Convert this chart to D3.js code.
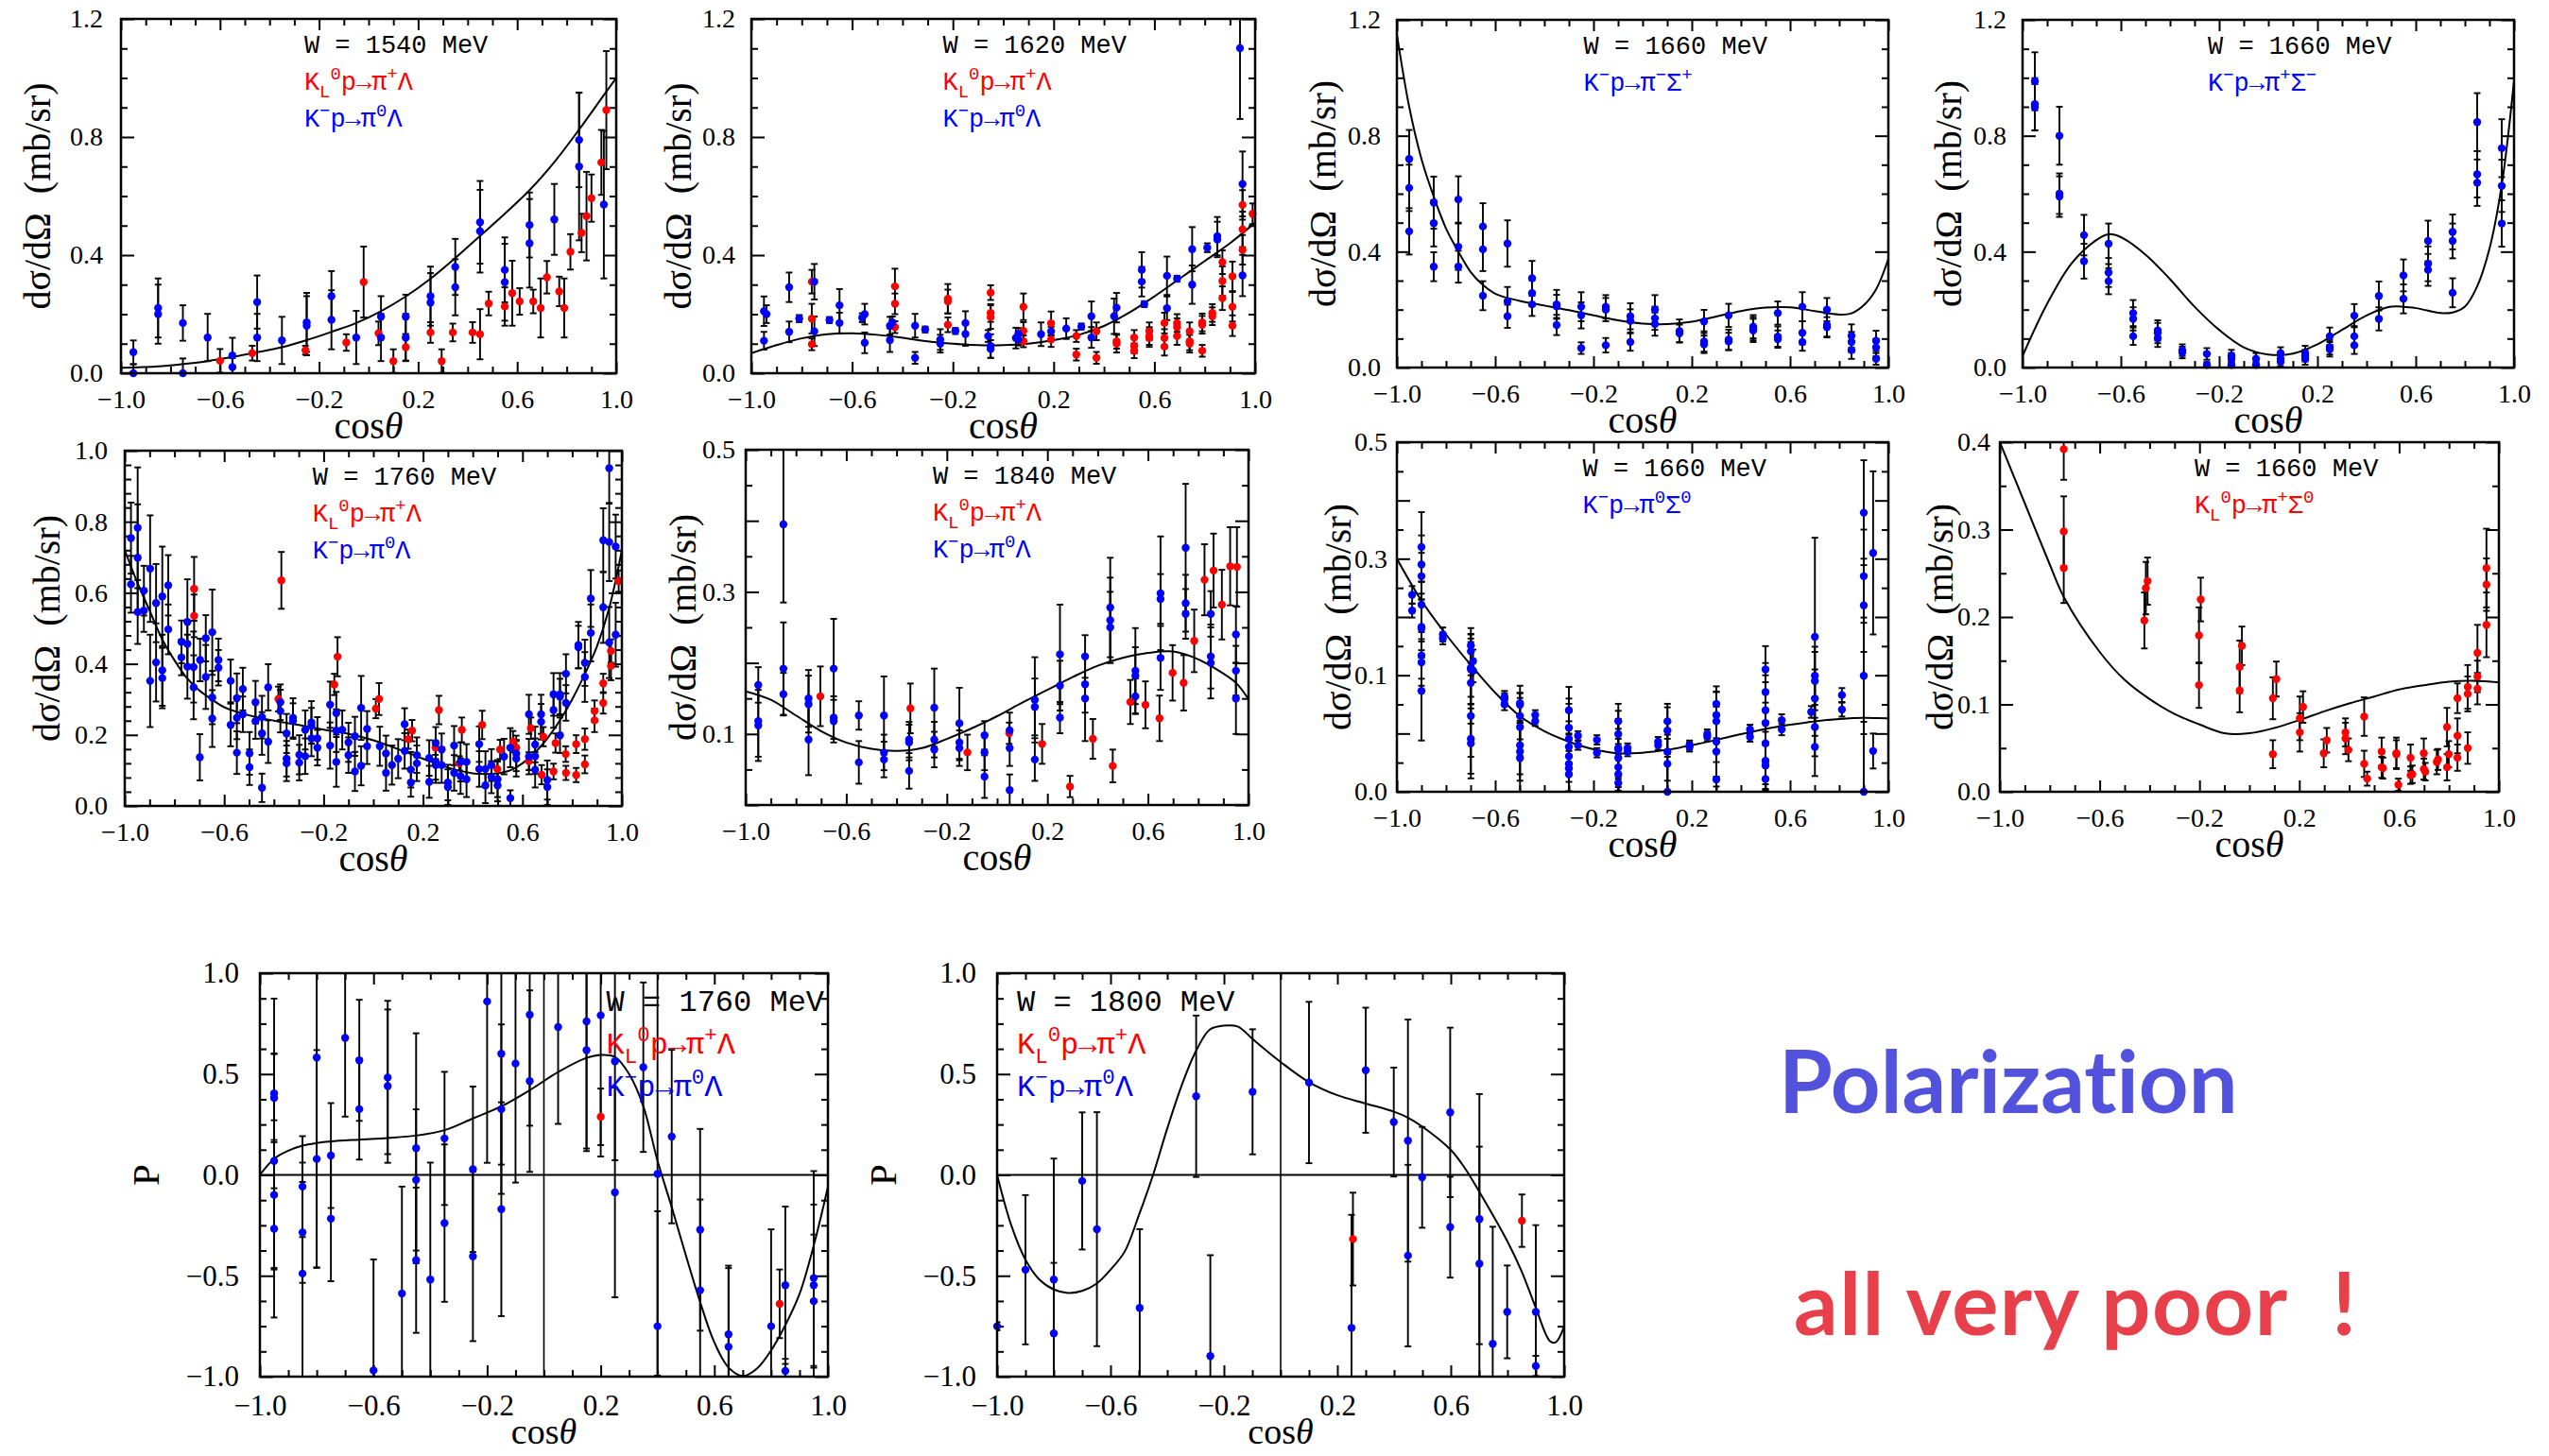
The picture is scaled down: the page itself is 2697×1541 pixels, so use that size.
<!DOCTYPE html>
<html>
<head>
<meta charset="utf-8">
<script src="https://cdn.jsdelivr.net/npm/d3@7"></script>
<style>
body{margin:0;background:#fff;}
svg{display:block;}
</style>
</head>
<body>
<svg id="plot"></svg>
<script>
const width = 2697;
const height = 1541;

const serif = '"Liberation Serif", "DejaVu Serif", serif';
const mono = '"Liberation Mono", "DejaVu Sans Mono", monospace';

// ---- data: [cos theta, value, error] ----
const xLabels = [-1.0, -0.6, -0.2, 0.2, 0.6, 1.0];

// W = 1540 MeV, Lambda
const w1540Kminus = [[-0.95,0.071,0.04],[-0.95,0.0,0.03],[-0.85,0.221,0.1],[-0.85,0.2,0.1],[-0.75,0.17,0.06],[-0.75,0.0,0.05],[-0.65,0.121,0.08],[-0.55,0.06,0.06],[-0.55,0.021,0.03],[-0.45,0.241,0.09],[-0.45,0.121,0.08],[-0.35,0.111,0.08],[-0.25,0.172,0.1],[-0.25,0.161,0.1],[-0.15,0.261,0.085],[-0.15,0.181,0.1],[-0.05,0.121,0.09],[0.05,0.191,0.07],[0.05,0.121,0.08],[0.15,0.191,0.075],[0.15,0.121,0.08],[0.25,0.261,0.1],[0.25,0.239,0.1],[0.35,0.36,0.095],[0.35,0.291,0.095],[0.45,0.511,0.14],[0.45,0.481,0.14],[0.55,0.35,0.11],[0.55,0.308,0.13],[0.65,0.502,0.11],[0.65,0.44,0.15],[0.75,0.521,0.12],[0.85,0.79,0.16],[0.85,0.70,0.25],[0.95,0.571,0.25]];
const w1540KL = [[-0.60,0.042,0.04],[-0.47,0.068,0.025],[-0.255,0.078,0.015],[-0.09,0.104,0.028],[-0.02,0.309,0.12],[0.04,0.135,0.04],[0.10,0.041,0.04],[0.15,0.088,0.045],[0.25,0.138,0.035],[0.295,0.041,0.04],[0.34,0.138,0.03],[0.42,0.138,0.035],[0.45,0.132,0.085],[0.485,0.236,0.04],[0.55,0.226,0.065],[0.58,0.271,0.11],[0.61,0.243,0.045],[0.665,0.243,0.04],[0.695,0.221,0.1],[0.72,0.325,0.055],[0.77,0.277,0.05],[0.79,0.221,0.1],[0.815,0.411,0.06],[0.86,0.475,0.065],[0.88,0.532,0.15],[0.90,0.593,0.08],[0.94,0.714,0.11],[0.96,0.891,0.2]];
const w1540Fit = [[-1,0.018],[-0.85,0.023],[-0.75,0.031],[-0.65,0.041],[-0.55,0.055],[-0.45,0.071],[-0.35,0.088],[-0.25,0.112],[-0.15,0.14],[-0.05,0.17],[0.05,0.21],[0.15,0.26],[0.25,0.32],[0.35,0.39],[0.45,0.465],[0.55,0.54],[0.65,0.62],[0.75,0.715],[0.85,0.825],[0.95,0.942],[1,1.0]];

// W = 1620 MeV, Lambda
const w1620Kminus = [[-0.95,0.21,0.05],[-0.94,0.20,0.03],[-0.95,0.11,0.03],[-0.85,0.291,0.05],[-0.85,0.14,0.035],[-0.81,0.185,0.012],[-0.75,0.31,0.06],[-0.75,0.142,0.05],[-0.69,0.18,0.01],[-0.65,0.23,0.055],[-0.65,0.17,0.035],[-0.56,0.188,0.015],[-0.55,0.2,0.035],[-0.55,0.103,0.035],[-0.45,0.112,0.04],[-0.45,0.161,0.03],[-0.44,0.172,0.02],[-0.35,0.161,0.04],[-0.35,0.052,0.02],[-0.31,0.148,0.01],[-0.25,0.114,0.035],[-0.25,0.10,0.03],[-0.19,0.143,0.01],[-0.15,0.17,0.04],[-0.15,0.133,0.04],[-0.06,0.126,0.02],[-0.05,0.092,0.04],[-0.05,0.082,0.03],[0.05,0.119,0.035],[0.06,0.133,0.02],[0.06,0.114,0.02],[0.15,0.132,0.04],[0.19,0.142,0.015],[0.25,0.151,0.035],[0.31,0.158,0.01],[0.35,0.193,0.05],[0.35,0.121,0.035],[0.44,0.193,0.06],[0.45,0.222,0.05],[0.55,0.35,0.06],[0.55,0.31,0.05],[0.56,0.234,0.01],[0.65,0.33,0.065],[0.65,0.22,0.04],[0.69,0.32,0.01],[0.75,0.42,0.075],[0.75,0.30,0.065],[0.81,0.425,0.015],[0.85,0.464,0.065],[0.85,0.453,0.06],[0.94,1.101,0.24],[0.95,0.641,0.11],[0.95,0.331,0.07]];
const w1620KL = [[-0.76,0.31,0.04],[-0.76,0.185,0.05],[-0.76,0.098,0.02],[-0.43,0.294,0.06],[-0.43,0.235,0.035],[-0.43,0.156,0.02],[-0.22,0.252,0.05],[-0.22,0.243,0.04],[-0.22,0.164,0.025],[-0.05,0.273,0.025],[-0.05,0.204,0.03],[-0.05,0.19,0.04],[0.08,0.225,0.045],[0.08,0.143,0.03],[0.08,0.108,0.02],[0.19,0.169,0.04],[0.19,0.114,0.025],[0.29,0.126,0.02],[0.29,0.063,0.02],[0.37,0.142,0.03],[0.37,0.052,0.02],[0.45,0.10,0.03],[0.45,0.108,0.025],[0.52,0.121,0.025],[0.52,0.092,0.025],[0.52,0.076,0.025],[0.58,0.142,0.03],[0.58,0.126,0.03],[0.58,0.119,0.03],[0.64,0.17,0.035],[0.64,0.119,0.03],[0.64,0.09,0.03],[0.69,0.17,0.03],[0.69,0.156,0.03],[0.69,0.126,0.03],[0.74,0.142,0.03],[0.74,0.108,0.03],[0.74,0.10,0.03],[0.79,0.172,0.03],[0.79,0.164,0.03],[0.79,0.076,0.02],[0.83,0.204,0.03],[0.83,0.193,0.03],[0.87,0.376,0.04],[0.87,0.312,0.05],[0.87,0.254,0.04],[0.91,0.328,0.05],[0.91,0.225,0.05],[0.91,0.161,0.035],[0.95,0.57,0.05],[0.95,0.487,0.06],[0.95,0.418,0.05],[0.99,0.54,0.035]];
const w1620Fit = [[-1,0.068],[-0.9,0.095],[-0.8,0.118],[-0.7,0.132],[-0.6,0.135],[-0.5,0.13],[-0.4,0.12],[-0.3,0.108],[-0.2,0.1],[-0.1,0.095],[0,0.095],[0.1,0.1],[0.2,0.112],[0.3,0.13],[0.4,0.16],[0.5,0.205],[0.6,0.26],[0.7,0.32],[0.8,0.38],[0.9,0.44],[1,0.51]];

// W = 1660 MeV, pi- Sigma+
const w1660SigPlus = [[-0.95,0.72,0.1],[-0.95,0.62,0.08],[-0.95,0.47,0.08],[-0.85,0.569,0.09],[-0.85,0.498,0.08],[-0.85,0.348,0.05],[-0.75,0.58,0.08],[-0.75,0.417,0.08],[-0.75,0.348,0.055],[-0.65,0.487,0.08],[-0.65,0.408,0.075],[-0.65,0.248,0.05],[-0.55,0.428,0.08],[-0.55,0.228,0.05],[-0.55,0.177,0.04],[-0.45,0.308,0.06],[-0.45,0.257,0.045],[-0.45,0.218,0.04],[-0.35,0.218,0.05],[-0.35,0.211,0.04],[-0.35,0.147,0.035],[-0.25,0.21,0.05],[-0.25,0.18,0.045],[-0.25,0.067,0.02],[-0.15,0.21,0.04],[-0.15,0.2,0.04],[-0.15,0.077,0.025],[-0.05,0.177,0.045],[-0.05,0.161,0.04],[-0.05,0.088,0.03],[0.05,0.2,0.05],[0.05,0.17,0.04],[0.05,0.15,0.04],[0.15,0.126,0.04],[0.15,0.118,0.03],[0.25,0.159,0.04],[0.25,0.09,0.035],[0.25,0.08,0.03],[0.35,0.18,0.04],[0.35,0.096,0.035],[0.35,0.09,0.03],[0.45,0.141,0.04],[0.45,0.134,0.04],[0.45,0.128,0.04],[0.55,0.188,0.04],[0.55,0.107,0.035],[0.55,0.098,0.03],[0.65,0.21,0.05],[0.65,0.12,0.04],[0.65,0.088,0.03],[0.75,0.2,0.04],[0.75,0.147,0.04],[0.75,0.139,0.035],[0.85,0.109,0.04],[0.85,0.088,0.035],[0.85,0.06,0.03],[0.95,0.092,0.035],[0.95,0.069,0.03],[0.95,0.03,0.02]];
const w1660SigPlusFit = [[-1,1.15],[-0.95,0.9],[-0.9,0.72],[-0.85,0.59],[-0.8,0.48],[-0.75,0.4],[-0.7,0.33],[-0.65,0.285],[-0.6,0.255],[-0.5,0.23],[-0.4,0.214],[-0.3,0.198],[-0.2,0.18],[-0.1,0.163],[0,0.152],[0.1,0.15],[0.2,0.158],[0.3,0.176],[0.4,0.195],[0.5,0.207],[0.6,0.208],[0.7,0.195],[0.8,0.183],[0.85,0.187],[0.9,0.215],[0.95,0.27],[1,0.375]];

// W = 1660 MeV, pi+ Sigma-
const w1660SigMinus = [[-0.95,0.988,0.1],[-0.95,0.909,0.09],[-0.95,0.898,0.08],[-0.85,0.8,0.1],[-0.85,0.6,0.07],[-0.85,0.59,0.07],[-0.75,0.457,0.07],[-0.75,0.367,0.06],[-0.65,0.427,0.07],[-0.65,0.328,0.05],[-0.65,0.298,0.045],[-0.55,0.188,0.045],[-0.55,0.168,0.04],[-0.55,0.108,0.03],[-0.45,0.128,0.035],[-0.45,0.119,0.035],[-0.45,0.101,0.03],[-0.35,0.06,0.02],[-0.35,0.052,0.02],[-0.25,0.047,0.02],[-0.25,0.009,0.01],[-0.15,0.041,0.02],[-0.15,0.03,0.02],[-0.15,0.009,0.01],[-0.05,0.03,0.02],[-0.05,0.009,0.01],[0.05,0.05,0.02],[0.05,0.03,0.015],[0.05,0.02,0.015],[0.15,0.05,0.025],[0.15,0.041,0.02],[0.15,0.03,0.02],[0.25,0.108,0.03],[0.25,0.07,0.025],[0.25,0.063,0.025],[0.35,0.179,0.04],[0.35,0.108,0.035],[0.35,0.077,0.03],[0.45,0.247,0.05],[0.45,0.168,0.04],[0.55,0.318,0.055],[0.55,0.237,0.05],[0.65,0.437,0.07],[0.65,0.358,0.06],[0.65,0.337,0.055],[0.75,0.468,0.06],[0.75,0.437,0.06],[0.75,0.258,0.05],[0.85,0.847,0.1],[0.85,0.667,0.08],[0.85,0.638,0.08],[0.95,0.757,0.1],[0.95,0.627,0.09],[0.95,0.497,0.08]];
const w1660SigMinusFit = [[-1,0.04],[-0.9,0.22],[-0.8,0.36],[-0.7,0.44],[-0.65,0.46],[-0.6,0.45],[-0.5,0.39],[-0.4,0.305],[-0.3,0.21],[-0.2,0.13],[-0.1,0.07],[0,0.045],[0.1,0.048],[0.2,0.08],[0.3,0.13],[0.4,0.18],[0.5,0.21],[0.6,0.205],[0.7,0.188],[0.75,0.19],[0.8,0.21],[0.85,0.28],[0.9,0.41],[0.95,0.63],[1,0.99]];

// W = 1760 MeV, Lambda
const w1760Kminus = [[-0.975,0.754,0.1],[-0.975,0.624,0.08],[-0.948,0.783,0.17],[-0.948,0.699,0.15],[-0.948,0.546,0.09],[-0.923,0.606,0.07],[-0.923,0.55,0.06],[-0.898,0.668,0.15],[-0.898,0.352,0.13],[-0.874,0.571,0.11],[-0.874,0.404,0.11],[-0.849,0.59,0.14],[-0.849,0.382,0.1],[-0.849,0.36,0.085],[-0.825,0.621,0.085],[-0.825,0.497,0.07],[-0.772,0.462,0.06],[-0.772,0.418,0.05],[-0.748,0.518,0.12],[-0.748,0.456,0.06],[-0.748,0.392,0.09],[-0.723,0.391,0.1],[-0.723,0.334,0.09],[-0.698,0.137,0.065],[-0.697,0.411,0.06],[-0.674,0.472,0.065],[-0.674,0.363,0.09],[-0.648,0.489,0.12],[-0.648,0.305,0.075],[-0.648,0.246,0.08],[-0.623,0.411,0.06],[-0.623,0.389,0.05],[-0.574,0.352,0.06],[-0.574,0.228,0.06],[-0.549,0.303,0.07],[-0.549,0.248,0.06],[-0.549,0.15,0.06],[-0.525,0.329,0.06],[-0.525,0.258,0.05],[-0.498,0.148,0.06],[-0.498,0.109,0.05],[-0.474,0.292,0.06],[-0.474,0.239,0.05],[-0.448,0.25,0.06],[-0.448,0.204,0.06],[-0.448,0.051,0.04],[-0.423,0.334,0.065],[-0.423,0.181,0.06],[-0.374,0.292,0.05],[-0.374,0.267,0.06],[-0.349,0.204,0.055],[-0.349,0.133,0.05],[-0.349,0.12,0.05],[-0.323,0.248,0.055],[-0.323,0.239,0.05],[-0.298,0.144,0.055],[-0.298,0.122,0.05],[-0.274,0.214,0.055],[-0.274,0.14,0.05],[-0.249,0.235,0.06],[-0.249,0.226,0.05],[-0.249,0.19,0.05],[-0.225,0.19,0.06],[-0.225,0.164,0.05],[-0.174,0.285,0.065],[-0.174,0.17,0.065],[-0.149,0.261,0.06],[-0.149,0.212,0.06],[-0.149,0.124,0.07],[-0.125,0.214,0.055],[-0.1,0.179,0.055],[-0.1,0.143,0.05],[-0.074,0.196,0.055],[-0.074,0.097,0.055],[-0.049,0.276,0.09],[-0.049,0.113,0.055],[-0.025,0.217,0.05],[-0.025,0.168,0.05],[0.026,0.168,0.055],[0.051,0.148,0.05],[0.051,0.093,0.05],[0.075,0.115,0.055],[0.1,0.133,0.055],[0.126,0.23,0.045],[0.126,0.155,0.05],[0.151,0.102,0.05],[0.151,0.066,0.04],[0.175,0.143,0.05],[0.175,0.12,0.05],[0.225,0.135,0.05],[0.225,0.068,0.045],[0.251,0.177,0.045],[0.251,0.124,0.05],[0.251,0.115,0.05],[0.275,0.159,0.045],[0.275,0.115,0.05],[0.3,0.066,0.05],[0.3,0.053,0.05],[0.325,0.17,0.055],[0.325,0.093,0.05],[0.351,0.124,0.055],[0.351,0.084,0.05],[0.375,0.124,0.05],[0.375,0.075,0.05],[0.426,0.174,0.05],[0.426,0.104,0.05],[0.451,0.058,0.05],[0.451,0.104,0.05],[0.475,0.115,0.045],[0.475,0.081,0.045],[0.5,0.075,0.05],[0.5,0.058,0.045],[0.526,0.139,0.05],[0.551,0.164,0.055],[0.551,0.022,0.022],[0.575,0.148,0.05],[0.575,0.133,0.05],[0.626,0.258,0.055],[0.626,0.139,0.05],[0.651,0.173,0.05],[0.651,0.14,0.05],[0.651,0.102,0.05],[0.675,0.258,0.055],[0.675,0.237,0.05],[0.7,0.073,0.055],[0.7,0.053,0.05],[0.725,0.314,0.06],[0.725,0.27,0.05],[0.751,0.314,0.06],[0.751,0.308,0.05],[0.751,0.199,0.05],[0.775,0.372,0.055],[0.775,0.29,0.05],[0.825,0.453,0.065],[0.825,0.447,0.06],[0.851,0.403,0.065],[0.851,0.363,0.07],[0.875,0.584,0.08],[0.875,0.487,0.08],[0.925,0.748,0.09],[0.925,0.559,0.1],[0.949,0.951,0.1],[0.949,0.743,0.11],[0.949,0.46,0.1],[0.975,0.73,0.09],[0.975,0.482,0.09]];
const w1760KL = [[-0.721,0.611,0.09],[-0.721,0.535,0.06],[-0.37,0.635,0.08],[-0.382,0.301,0.035],[-0.157,0.342,0.03],[-0.144,0.42,0.055],[0.01,0.274,0.027],[0.023,0.301,0.045],[0.141,0.188,0.027],[0.156,0.212,0.03],[0.25,0.164,0.02],[0.264,0.27,0.04],[0.356,0.214,0.035],[0.346,0.12,0.02],[0.438,0.228,0.04],[0.499,0.104,0.025],[0.51,0.159,0.027],[0.562,0.181,0.03],[0.575,0.164,0.022],[0.626,0.126,0.025],[0.634,0.219,0.03],[0.677,0.088,0.027],[0.684,0.195,0.027],[0.725,0.097,0.022],[0.733,0.177,0.027],[0.774,0.146,0.022],[0.775,0.093,0.02],[0.816,0.174,0.025],[0.816,0.087,0.02],[0.851,0.188,0.03],[0.851,0.117,0.025],[0.89,0.241,0.033],[0.89,0.267,0.03],[0.925,0.345,0.027],[0.925,0.29,0.03],[0.956,0.436,0.033],[0.956,0.394,0.04],[0.987,0.633,0.03]];
const w1760Fit = [[-1,0.72],[-0.95,0.63],[-0.9,0.55],[-0.85,0.47],[-0.8,0.41],[-0.75,0.36],[-0.7,0.325],[-0.65,0.3],[-0.6,0.278],[-0.5,0.255],[-0.4,0.24],[-0.3,0.228],[-0.2,0.215],[-0.1,0.203],[0,0.185],[0.1,0.16],[0.2,0.133],[0.3,0.108],[0.4,0.092],[0.45,0.09],[0.5,0.092],[0.55,0.1],[0.6,0.12],[0.65,0.15],[0.7,0.19],[0.75,0.24],[0.8,0.3],[0.85,0.37],[0.9,0.45],[0.95,0.56],[1,0.72]];

// W = 1840 MeV, Lambda
const w1840Kminus = [[-0.95,0.169,0.025],[-0.95,0.118,0.05],[-0.95,0.112,0.05],[-0.85,0.395,0.11],[-0.85,0.192,0.065],[-0.85,0.156,0.03],[-0.75,0.15,0.04],[-0.75,0.142,0.04],[-0.75,0.092,0.05],[-0.65,0.192,0.07],[-0.65,0.123,0.03],[-0.65,0.118,0.03],[-0.55,0.126,0.02],[-0.55,0.06,0.03],[-0.45,0.126,0.055],[-0.45,0.074,0.025],[-0.45,0.064,0.025],[-0.35,0.092,0.025],[-0.35,0.088,0.025],[-0.35,0.048,0.025],[-0.25,0.137,0.055],[-0.25,0.092,0.025],[-0.25,0.078,0.025],[-0.15,0.115,0.05],[-0.15,0.088,0.025],[-0.15,0.08,0.025],[-0.05,0.098,0.02],[-0.05,0.074,0.025],[-0.05,0.04,0.03],[0.05,0.105,0.025],[0.05,0.08,0.025],[0.05,0.021,0.022],[0.15,0.148,0.06],[0.15,0.138,0.04],[0.15,0.064,0.03],[0.25,0.212,0.07],[0.25,0.168,0.035],[0.25,0.123,0.022],[0.35,0.209,0.03],[0.35,0.17,0.04],[0.35,0.15,0.06],[0.45,0.278,0.07],[0.45,0.26,0.06],[0.45,0.25,0.05],[0.55,0.189,0.06],[0.55,0.182,0.04],[0.55,0.153,0.025],[0.65,0.298,0.08],[0.65,0.29,0.035],[0.65,0.207,0.045],[0.75,0.362,0.09],[0.75,0.284,0.04],[0.75,0.269,0.035],[0.85,0.269,0.032],[0.85,0.209,0.045],[0.85,0.2,0.05],[0.95,0.24,0.04],[0.95,0.189,0.035],[0.95,0.15,0.05]];
const w1840KL = [[-0.703,0.153,0.042],[-0.345,0.136,0.035],[-0.118,0.074,0.025],[0.048,0.101,0.015],[0.179,0.086,0.028],[0.29,0.026,0.015],[0.381,0.093,0.028],[0.46,0.055,0.023],[0.53,0.145,0.031],[0.59,0.141,0.033],[0.646,0.122,0.032],[0.698,0.186,0.039],[0.742,0.172,0.039],[0.784,0.231,0.044],[0.825,0.317,0.05],[0.861,0.33,0.052],[0.894,0.282,0.049],[0.927,0.336,0.055],[0.954,0.335,0.056]];
const w1840Fit = [[-1,0.16],[-0.9,0.148],[-0.8,0.126],[-0.7,0.104],[-0.6,0.088],[-0.5,0.079],[-0.4,0.076],[-0.3,0.08],[-0.2,0.093],[-0.1,0.108],[0,0.125],[0.1,0.144],[0.2,0.162],[0.3,0.18],[0.4,0.196],[0.5,0.207],[0.6,0.214],[0.7,0.216],[0.8,0.205],[0.9,0.185],[0.95,0.172],[1,0.149]];

// W = 1660 MeV, pi0 Sigma0 (axis as printed: bottom label 0.0, then 0.1, 0.3, 0.5)
const w1660Sig0 = [[-0.938,0.238,0.015],[-0.938,0.211,0.012],[-0.9,0.32,0.06],[-0.9,0.29,0.05],[-0.9,0.27,0.04],[-0.9,0.221,0.04],[-0.9,0.183,0.04],[-0.9,0.18,0.05],[-0.9,0.134,0.04],[-0.9,0.122,0.04],[-0.9,0.073,0.085],[-0.813,0.17,0.012],[-0.813,0.163,0.01],[-0.699,0.151,0.03],[-0.699,0.141,0.03],[-0.699,0.113,0.05],[-0.699,0.11,0.06],[-0.699,0.087,0.07],[-0.699,0.03,0.07],[-0.699,-0.009,0.06],[-0.699,-0.017,0.06],[-0.69,0.124,0.02],[-0.69,0.108,0.02],[-0.562,0.063,0.01],[-0.562,0.059,0.01],[-0.562,0.05,0.01],[-0.499,0.052,0.03],[-0.499,0.049,0.02],[-0.499,0.03,0.04],[-0.499,0.011,0.05],[-0.499,-0.02,0.05],[-0.499,-0.031,0.05],[-0.499,-0.042,0.06],[-0.437,0.032,0.008],[-0.437,0.021,0.008],[-0.3,0.04,0.04],[-0.3,0.01,0.05],[-0.3,-0.009,0.06],[-0.3,-0.023,0.06],[-0.3,-0.039,0.06],[-0.3,-0.052,0.05],[-0.3,-0.06,0.05],[-0.3,-0.07,0.04],[-0.263,-0.004,0.008],[-0.263,-0.02,0.008],[-0.186,-0.011,0.008],[-0.186,-0.033,0.008],[-0.099,0.021,0.03],[-0.099,-0.001,0.04],[-0.099,-0.025,0.05],[-0.099,-0.028,0.05],[-0.099,-0.042,0.05],[-0.099,-0.058,0.04],[-0.099,-0.07,0.035],[-0.099,-0.085,0.03],[-0.061,-0.025,0.008],[-0.061,-0.031,0.008],[0.063,-0.014,0.008],[0.063,-0.02,0.008],[0.101,0.021,0.03],[0.101,0.005,0.04],[0.101,-0.031,0.05],[0.101,-0.052,0.05],[0.101,-0.1,0.06],[0.191,-0.02,0.008],[0.191,-0.023,0.008],[0.263,-0.001,0.008],[0.263,-0.005,0.008],[0.3,0.051,0.03],[0.3,0.032,0.04],[0.3,0.021,0.05],[0.3,-0.014,0.06],[0.3,-0.031,0.06],[0.3,-0.079,0.03],[0.437,0.007,0.008],[0.437,-0.006,0.008],[0.5,0.11,0.04],[0.5,0.071,0.05],[0.5,0.04,0.06],[0.5,0.018,0.07],[0.5,-0.017,0.07],[0.5,-0.047,0.05],[0.5,-0.055,0.04],[0.5,-0.078,0.03],[0.566,0.023,0.01],[0.566,0.007,0.01],[0.686,0.037,0.01],[0.701,0.166,0.17],[0.701,0.099,0.05],[0.701,0.09,0.05],[0.701,0.06,0.05],[0.701,0.011,0.05],[0.701,-0.023,0.05],[0.811,0.066,0.012],[0.811,0.041,0.012],[0.9,0.379,0.09],[0.9,0.27,0.08],[0.9,0.22,0.08],[0.9,0.099,0.1],[0.9,-0.1,0.12],[0.938,0.31,0.14],[0.938,-0.03,0.03]];
const w1660Sig0Fit = [[-1,0.3],[-0.9,0.228],[-0.8,0.17],[-0.7,0.118],[-0.6,0.07],[-0.5,0.03],[-0.4,0.004],[-0.3,-0.014],[-0.2,-0.027],[-0.1,-0.034],[0,-0.033],[0.1,-0.028],[0.2,-0.02],[0.3,-0.011],[0.4,-0.001],[0.5,0.008],[0.6,0.015],[0.7,0.021],[0.8,0.025],[0.9,0.027],[1,0.026]];
const sig0TickValues = [-0.1, 0.1, 0.3, 0.5];
const sig0TickLabels = ['0.0', '0.1', '0.3', '0.5'];

// W = 1660 MeV, KL p -> pi+ Sigma0
const w1660KLSig0 = [[-0.744,0.392,0.035],[-0.744,0.298,0.04],[-0.744,0.256,0.04],[-0.421,0.196,0.032],[-0.415,0.233,0.03],[-0.408,0.241,0.027],[-0.202,0.122,0.026],[-0.202,0.179,0.032],[-0.195,0.22,0.025],[-0.039,0.116,0.025],[-0.039,0.143,0.03],[-0.03,0.167,0.022],[0.094,0.107,0.024],[0.094,0.043,0.016],[0.108,0.129,0.02],[0.202,0.084,0.025],[0.202,0.068,0.022],[0.215,0.097,0.018],[0.298,0.044,0.016],[0.31,0.059,0.014],[0.385,0.061,0.018],[0.385,0.068,0.016],[0.397,0.048,0.013],[0.46,0.086,0.022],[0.46,0.032,0.015],[0.472,0.015,0.008],[0.53,0.046,0.016],[0.53,0.028,0.012],[0.535,0.027,0.012],[0.589,0.044,0.018],[0.589,0.043,0.016],[0.597,0.008,0.007],[0.646,0.039,0.015],[0.646,0.019,0.01],[0.653,0.02,0.01],[0.699,0.044,0.017],[0.699,0.026,0.012],[0.705,0.023,0.01],[0.751,0.034,0.014],[0.756,0.037,0.012],[0.792,0.074,0.022],[0.792,0.028,0.015],[0.799,0.043,0.015],[0.834,0.107,0.017],[0.834,0.064,0.02],[0.834,0.039,0.015],[0.875,0.12,0.025],[0.875,0.112,0.02],[0.875,0.05,0.018],[0.914,0.159,0.032],[0.914,0.132,0.018],[0.914,0.118,0.018],[0.95,0.256,0.045],[0.95,0.237,0.03],[0.95,0.191,0.037]];
const w1660KLSig0Fit = [[-1,0.4],[-0.9,0.33],[-0.8,0.26],[-0.744,0.223],[-0.6,0.16],[-0.5,0.128],[-0.4,0.106],[-0.3,0.089],[-0.2,0.077],[-0.1,0.067],[0,0.067],[0.1,0.073],[0.2,0.082],[0.3,0.092],[0.4,0.101],[0.5,0.109],[0.6,0.117],[0.7,0.122],[0.8,0.126],[0.9,0.127],[1,0.125]];

// Polarization, W = 1760 MeV
const pol1760Kminus = [[-0.95,0.404,0.47],[-0.95,0.382,0.22],[-0.95,0.069,0.53],[-0.95,-0.099,0.37],[-0.95,-0.267,0.44],[-0.85,-0.058,0.25],[-0.85,-0.285,0.25],[-0.85,-0.489,0.55],[-0.8,0.582,1.04],[-0.8,0.079,0.54],[-0.75,0.096,0.26],[-0.75,-0.217,0.31],[-0.7,0.679,0.39],[-0.65,0.568,0.3],[-0.65,0.326,0.25],[-0.6,-0.969,0.55],[-0.55,0.483,0.38],[-0.55,0.44,0.38],[-0.5,-0.588,0.53],[-0.45,0.132,0.57],[-0.45,-0.025,0.35],[-0.45,-0.423,0.36],[-0.4,-0.519,0.58],[-0.35,0.181,0.33],[-0.35,-0.239,0.39],[-0.25,0.028,0.41],[-0.25,-0.404,0.42],[-0.2,0.86,0.8],[-0.15,0.601,0.55],[-0.15,0.326,0.42],[-0.15,-0.17,0.53],[-0.1,0.552,0.59],[-0.05,0.794,0.55],[-0.05,0.465,0.45],[0.05,0.733,0.48],[0.15,0.761,0.63],[0.15,0.618,0.5],[0.2,0.791,0.7],[0.25,0.563,0.49],[0.25,-0.087,0.52],[0.35,0.534,0.42],[0.4,0.005,1.0],[0.4,-0.75,0.57],[0.45,0.19,0.43],[0.55,-0.272,0.5],[0.55,-0.572,0.45],[0.65,-0.79,0.34],[0.65,-0.852,0.39],[0.8,-0.75,0.48],[0.85,-0.547,0.39],[0.85,-0.972,0.06],[0.95,-0.511,0.53],[0.95,-0.547,0.4],[0.95,-0.626,0.33]];
const pol1760KL = [[0.2,0.288,0.14],[0.83,-0.639,0.17]];
const pol1760Fit = [[-1,0],[-0.95,0.08],[-0.9,0.12],[-0.85,0.145],[-0.8,0.158],[-0.75,0.166],[-0.65,0.175],[-0.55,0.183],[-0.45,0.195],[-0.35,0.222],[-0.25,0.28],[-0.15,0.34],[-0.05,0.42],[0.05,0.51],[0.15,0.58],[0.2,0.595],[0.25,0.585],[0.3,0.5],[0.35,0.34],[0.4,0.07],[0.45,-0.16],[0.5,-0.4],[0.55,-0.63],[0.6,-0.83],[0.65,-0.955],[0.7,-0.997],[0.75,-0.96],[0.8,-0.87],[0.85,-0.745],[0.9,-0.59],[0.95,-0.35],[1,-0.06]];

// Polarization, W = 1800 MeV
const pol1800Kminus = [[-1,-0.75,0.02],[-0.9,-0.47,0.37],[-0.8,-0.519,0.6],[-0.8,-0.786,0.35],[-0.7,-0.03,0.34],[-0.648,-0.269,0.58],[-0.497,-0.659,0.39],[-0.298,0.39,0.4],[-0.248,-0.898,0.5],[-0.099,0.412,0.31],[0.1,0.458,0.4],[0.25,-0.758,0.56],[0.3,0.519,0.31],[0.399,0.262,0.27],[0.449,0.17,0.6],[0.449,-0.4,0.45],[0.499,-0.012,0.25],[0.598,0.31,0.42],[0.598,-0.259,0.25],[0.701,-0.219,0.62],[0.701,-0.44,0.58],[0.748,-0.837,0.58],[0.799,-0.679,0.23],[0.9,-0.679,0.43],[0.9,-0.947,0.05]];
const pol1800KL = [[0.255,-0.318,0.23],[0.851,-0.227,0.13]];
const pol1800Fit = [[-1,0],[-0.95,-0.25],[-0.9,-0.42],[-0.85,-0.52],[-0.8,-0.568],[-0.75,-0.585],[-0.7,-0.575],[-0.65,-0.54],[-0.6,-0.47],[-0.55,-0.38],[-0.5,-0.2],[-0.45,0.0],[-0.4,0.23],[-0.35,0.44],[-0.3,0.61],[-0.25,0.72],[-0.2,0.74],[-0.15,0.735],[-0.1,0.675],[0,0.56],[0.1,0.46],[0.2,0.395],[0.3,0.354],[0.4,0.313],[0.45,0.283],[0.5,0.239],[0.6,0.124],[0.65,0.033],[0.7,-0.082],[0.8,-0.33],[0.85,-0.478],[0.9,-0.659],[0.95,-0.824],[0.97,-0.83],[1,-0.75]];

// reaction labels: [text, 0 normal | 1 superscript | -1 subscript]
const rxKLLambda = [['K',0],['L',-1],['0',1],['p\u2192\u03c0',0],['+',1],['\u039b',0]];
const rxKmLambda = [['K',0],['\u2212',1],['p\u2192\u03c0',0],['0',1],['\u039b',0]];
const rxSigPlus = [['K',0],['\u2212',1],['p\u2192\u03c0',0],['\u2212',1],['\u03a3',0],['+',1]];
const rxSigMinus = [['K',0],['\u2212',1],['p\u2192\u03c0',0],['+',1],['\u03a3',0],['\u2212',1]];
const rxSig0 = [['K',0],['\u2212',1],['p\u2192\u03c0',0],['0',1],['\u03a3',0],['0',1]];
const rxKLSig0 = [['K',0],['L',-1],['0',1],['p\u2192\u03c0',0],['+',1],['\u03a3',0],['0',1]];

const RED = '#ff0000';
const BLUE = '#0000ff';
const dsdo = 'd\u03c3/d\u03a9\u00a0\u00a0(mb/sr)';

// ---- panel layout ----
const panels = [
  {box:{l:128,r:652,t:20,b:395}, ydom:[0,1.2], ylab:[0,0.4,0.8,1.2], ystep:0.1, ymaj:0.4, ypad:19,
   title:'W = 1540 MeV', lx:0.37, rx:[[rxKLLambda,RED],[rxKmLambda,BLUE]],
   red:w1540KL, blue:w1540Kminus, fit:w1540Fit, ytitle:dsdo, ytx:53},
  {box:{l:795,r:1328,t:20,b:395}, ydom:[0,1.2], ylab:[0,0.4,0.8,1.2], ystep:0.1, ymaj:0.4, ypad:17,
   title:'W = 1620 MeV', lx:0.38, rx:[[rxKLLambda,RED],[rxKmLambda,BLUE]],
   red:w1620KL, blue:w1620Kminus, fit:w1620Fit, ytitle:dsdo, ytx:731},
  {box:{l:1478,r:1998,t:21,b:389}, ydom:[0,1.2], ylab:[0,0.4,0.8,1.2], ystep:0.1, ymaj:0.4, ypad:17,
   title:'W = 1660 MeV', lx:0.38, rx:[[rxSigPlus,BLUE]],
   red:[], blue:w1660SigPlus, fit:w1660SigPlusFit, ytitle:dsdo, ytx:1413},
  {box:{l:2140,r:2660,t:21,b:389}, ydom:[0,1.2], ylab:[0,0.4,0.8,1.2], ystep:0.1, ymaj:0.4, ypad:17,
   title:'W = 1660 MeV', lx:0.377, rx:[[rxSigMinus,BLUE]],
   red:[], blue:w1660SigMinus, fit:w1660SigMinusFit, ytitle:dsdo, ytx:2075},
  {box:{l:132,r:658,t:477,b:853}, ydom:[0,1.0], ylab:[0,0.2,0.4,0.6,0.8,1.0], ystep:0.04, ymaj:0.2, ypad:18,
   title:'W = 1760 MeV', lx:0.378, rx:[[rxKLLambda,RED],[rxKmLambda,BLUE]],
   red:w1760KL, blue:w1760Kminus, fit:w1760Fit, ytitle:dsdo, ytx:63},
  {box:{l:789,r:1321,t:476,b:852}, ydom:[0,0.5], ylab:[0.1,0.3,0.5], ystep:0.05, ymaj:0.1, ypad:11,
   title:'W = 1840 MeV', lx:0.372, rx:[[rxKLLambda,RED],[rxKmLambda,BLUE]],
   red:w1840KL, blue:w1840Kminus, fit:w1840Fit, ytitle:dsdo, ytx:736},
  {box:{l:1478,r:1998,t:468,b:838}, ydom:[-0.1,0.5], ylab:sig0TickValues, ylabText:sig0TickLabels, ystep:0.05, ymaj:0.1, ypad:10,
   title:'W = 1660 MeV', lx:0.378, rx:[[rxSig0,BLUE]],
   red:[], blue:w1660Sig0, fit:w1660Sig0Fit, ytitle:dsdo, ytx:1429},
  {box:{l:2116,r:2644,t:468,b:838}, ydom:[0,0.4], ylab:[0,0.1,0.2,0.3,0.4], ystep:0.05, ymaj:0.1, ypad:10,
   title:'W = 1660 MeV', lx:0.39, rx:[[rxKLSig0,RED]],
   red:w1660KLSig0, blue:[], fit:w1660KLSig0Fit, ytitle:dsdo, ytx:2066},
  {box:{l:275,r:876,t:1030,b:1457}, ydom:[-1,1], ylab:[-1,-0.5,0,0.5,1], ystep:0.125, ymaj:0.5, ypad:22, big:true, zero:true,
   title:'W = 1760 MeV', lx:0.61, rx:[[rxKLLambda,RED],[rxKmLambda,BLUE]],
   red:pol1760KL, blue:pol1760Kminus, fit:pol1760Fit, ytitle:'P', ytx:168},
  {box:{l:1055,r:1655,t:1030,b:1457}, ydom:[-1,1], ylab:[-1,-0.5,0,0.5,1], ystep:0.125, ymaj:0.5, ypad:22, big:true, zero:true,
   title:'W = 1800 MeV', lx:0.035, rx:[[rxKLLambda,RED],[rxKmLambda,BLUE]],
   red:pol1800KL, blue:pol1800Kminus, fit:pol1800Fit, ytitle:'P', ytx:948}
];

let svg;

function main(){
  svg = d3.select('svg#plot')
  .attr('width', width)
  .attr('height', height);
  svg.append('rect').attr('width', width).attr('height', height).attr('fill', '#fff');

  panels.forEach(drawPanel);

  svg.append('text')
  .attr('x', 1882).attr('y', 1178)
  .attr('font-family', 'Lato, "Open Sans", sans-serif')
  .attr('font-weight', 700)
  .attr('font-size', 92)
  .style('font-variant-ligatures', 'none')
  .attr('fill', '#5252dc')
  .text('Polarization');

  svg.append('text')
  .attr('x', 1898).attr('y', 1413)
  .attr('font-family', 'Lato, "Open Sans", sans-serif')
  .attr('font-weight', 700)
  .attr('font-size', 92)
  .attr('letter-spacing', 1.5)
  .style('font-variant-ligatures', 'none')
  .attr('fill', '#e8404a')
  .text('all very poor\u00a0\u00a0!');
}


function near(v, step){
  return Math.abs(v/step - Math.round(v/step)) < 1e-6;
}


function drawPanel(p, i){
  const {l, r, t, b} = p.box;
  const big = !!p.big;
  const tickFs = big ? 31 : 28;
  const titleFs = big ? 38 : 40;
  const textFs = big ? 32 : 27;

  const x = d3.scaleLinear().domain([-1, 1]).range([l, r]);
  const y = d3.scaleLinear().domain(p.ydom).range([b, t]);

  const g = svg.append('g');
  const clipId = 'clip' + i;
  g.append('clipPath').attr('id', clipId)
  .append('rect').attr('x', l).attr('y', t).attr('width', r - l).attr('height', b - t);

  // inward ticks on all four sides
  const xAll = d3.range(0, 21).map(k => -1 + k*0.1);
  const xMinor = xAll.filter(v => !xLabels.some(m => Math.abs(m - v) < 1e-6));
  const ny = Math.round((p.ydom[1] - p.ydom[0]) / p.ystep);
  const yAll = d3.range(0, ny + 1).map(k => p.ydom[0] + k*p.ystep);
  const yMajor = yAll.filter(v => near(v, p.ymaj));
  const yMinor = yAll.filter(v => !near(v, p.ymaj));

  function tickSet(axis, vals, len, tr){
    g.append('g').attr('transform', tr)
    .call(axis.tickValues(vals).tickSize(-len).tickFormat(''))
    .call(s => {
      s.select('.domain').remove();
      s.selectAll('line').attr('stroke', '#000').attr('stroke-width', 2);
    });
  }
  tickSet(d3.axisBottom(x), xMinor, 7, `translate(0,${b})`);
  tickSet(d3.axisBottom(x), xLabels, 12, `translate(0,${b})`);
  tickSet(d3.axisTop(x), xMinor, 7, `translate(0,${t})`);
  tickSet(d3.axisTop(x), xLabels, 12, `translate(0,${t})`);
  tickSet(d3.axisLeft(y), yMinor, 7, `translate(${l},0)`);
  tickSet(d3.axisLeft(y), yMajor, 14, `translate(${l},0)`);
  tickSet(d3.axisRight(y), yMinor, 7, `translate(${r},0)`);
  tickSet(d3.axisRight(y), yMajor, 14, `translate(${r},0)`);

  // tick labels
  const fmt = d3.format('.1f');
  g.append('g').attr('transform', `translate(0,${b})`)
  .call(d3.axisBottom(x).tickValues(xLabels).tickSize(0)
    .tickPadding(big ? 19 : 17).tickFormat(fmt))
  .call(s => {
    s.select('.domain').remove();
    s.attr('font-family', serif).attr('font-size', tickFs);
  });

  const yFmt = p.ylabText ? (d => p.ylabText[p.ylab.indexOf(d)]) : fmt;
  g.append('g').attr('transform', `translate(${l},0)`)
  .call(d3.axisLeft(y).tickValues(p.ylab).tickSize(0)
    .tickPadding(p.ypad).tickFormat(yFmt))
  .call(s => {
    s.select('.domain').remove();
    s.attr('font-family', serif).attr('font-size', tickFs);
  });

  // axis titles
  const xt = g.append('text')
  .attr('x', (l + r)/2)
  .attr('y', b + (big ? 71 : 69))
  .attr('text-anchor', 'middle')
  .attr('font-family', serif)
  .attr('font-size', titleFs)
  .text('cos');
  xt.append('tspan').attr('font-style', 'italic').text('\u03b8');

  g.append('text')
  .attr('transform', `translate(${p.ytx},${(t + b)/2}) rotate(-90)`)
  .attr('text-anchor', 'middle')
  .attr('font-family', serif)
  .attr('font-size', big ? 41 : titleFs)
  .text(p.ytitle);

  // zero lines
  if(p.zero){
    g.append('line')
    .attr('x1', l).attr('x2', r).attr('y1', y(0)).attr('y2', y(0))
    .attr('stroke', '#000').attr('stroke-width', 2.2);
    g.append('line')
    .attr('x1', x(0)).attr('x2', x(0)).attr('y1', t).attr('y2', b)
    .attr('stroke', '#000').attr('stroke-width', 1.6);
  }

  // fit curve
  const line = d3.line()
  .x(d => x(d[0]))
  .y(d => y(d[1]))
  .curve(d3.curveCatmullRom.alpha(0.5));
  g.append('path')
  .datum(p.fit)
  .attr('clip-path', `url(#${clipId})`)
  .attr('d', line)
  .attr('fill', 'none')
  .attr('stroke', '#000')
  .attr('stroke-width', 2);

  // error bars
  const cap = 3.5;
  const all = p.red.concat(p.blue);
  const eb = g.append('g').attr('clip-path', `url(#${clipId})`)
  .attr('stroke', '#000').attr('stroke-width', 1.9);
  eb.selectAll('.bar').data(all).enter().append('line')
  .attr('class', 'bar')
  .attr('x1', d => x(d[0])).attr('x2', d => x(d[0]))
  .attr('y1', d => y(d[1] - d[2])).attr('y2', d => y(d[1] + d[2]));
  eb.selectAll('.capLo').data(all).enter().append('line')
  .attr('class', 'capLo')
  .attr('x1', d => x(d[0]) - cap).attr('x2', d => x(d[0]) + cap)
  .attr('y1', d => y(d[1] - d[2])).attr('y2', d => y(d[1] - d[2]));
  eb.selectAll('.capHi').data(all).enter().append('line')
  .attr('class', 'capHi')
  .attr('x1', d => x(d[0]) - cap).attr('x2', d => x(d[0]) + cap)
  .attr('y1', d => y(d[1] + d[2])).attr('y2', d => y(d[1] + d[2]));

  // points
  const pr = 4.2;
  g.selectAll('.redPt').data(p.red).enter().append('circle')
  .attr('class', 'redPt')
  .attr('cx', d => x(d[0])).attr('cy', d => y(d[1])).attr('r', pr)
  .attr('fill', RED);
  g.selectAll('.bluePt').data(p.blue).enter().append('circle')
  .attr('class', 'bluePt')
  .attr('cx', d => x(d[0])).attr('cy', d => y(d[1])).attr('r', pr)
  .attr('fill', BLUE);

  // frame
  g.append('rect')
  .attr('x', l).attr('y', t).attr('width', r - l).attr('height', b - t)
  .attr('fill', 'none').attr('stroke', '#000').attr('stroke-width', 2.5);

  // labels
  const tx = l + p.lx*(r - l);
  const gap = big ? 45 : 39;
  g.append('text')
  .attr('x', tx).attr('y', t + (big ? 40 : 36))
  .attr('font-family', mono)
  .attr('font-size', textFs)
  .attr('fill', '#000')
  .text(p.title);
  p.rx.forEach(([parts, color], k) => {
    richText(g, tx, t + (big ? 85 : 75) + k*gap, parts, color, textFs);
  });
}


function richText(g, x, y, parts, color, fs){
  const t = g.append('text')
  .attr('x', x).attr('y', y)
  .attr('fill', color)
  .attr('font-family', mono)
  .attr('font-size', fs);
  let cur = 0;
  parts.forEach(([s, k]) => {
    const off = k === 1 ? -0.42*fs : k === -1 ? 0.3*fs : 0;
    t.append('tspan')
    .attr('dy', off - cur)
    .attr('font-size', k ? fs*0.7 : fs)
    .text(s);
    cur = off;
  });
}


document.addEventListener('DOMContentLoaded', main);
</script>
</body>
</html>
